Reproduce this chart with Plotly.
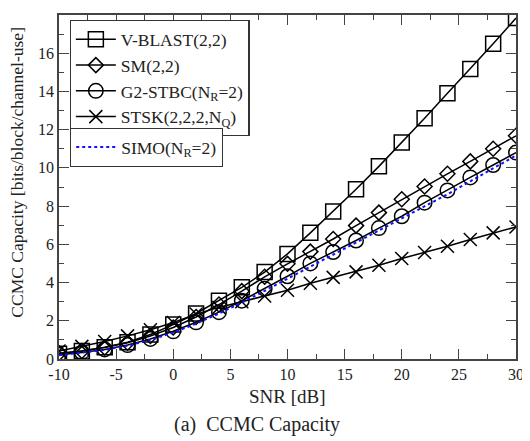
import plotly.graph_objects as go

snr = [-10, -8, -6, -4, -2, 0, 2, 4, 6, 8, 10, 12, 14, 16, 18, 20, 22, 24, 26, 28, 30]
vblast = [0.28, 0.42, 0.62, 0.88, 1.28, 1.80, 2.38, 3.05, 3.75, 4.55, 5.50, 6.60, 7.72, 8.88, 10.08, 11.33, 12.60, 13.90, 15.18, 16.50, 17.84]
sm = [0.30, 0.42, 0.60, 0.85, 1.20, 1.65, 2.20, 2.85, 3.55, 4.30, 4.98, 5.62, 6.28, 6.98, 7.66, 8.36, 9.03, 9.69, 10.34, 11.00, 11.68]
g2stbc = [0.22, 0.34, 0.50, 0.73, 1.05, 1.45, 1.92, 2.45, 3.05, 3.68, 4.33, 5.00, 5.60, 6.20, 6.85, 7.47, 8.18, 8.82, 9.50, 10.15, 10.80]
stsk = [0.42, 0.66, 0.92, 1.21, 1.53, 1.91, 2.35, 2.70, 3.00, 3.30, 3.60, 3.96, 4.27, 4.56, 4.91, 5.26, 5.57, 5.90, 6.25, 6.60, 6.91]
simo = [0.20, 0.32, 0.48, 0.70, 1.00, 1.38, 1.85, 2.38, 2.95, 3.57, 4.20, 4.85, 5.47, 6.10, 6.72, 7.35, 7.98, 8.62, 9.30, 9.98, 10.65]

x_tickvals = [-10, -5, 0, 5, 10, 15, 20, 25, 30]
x_ticktext = ["-10", "-5", "0", "5", "10", "15", "20", "25", "30"]
y_tickvals = [0, 2, 4, 6, 8, 10, 12, 14, 16, 18]

names = ["V-BLAST(2,2)", "SM(2,2)", "G2-STBC(N<sub>R</sub>=2)", "STSK(2,2,2,N<sub>Q</sub>)"]
simo_name = "SIMO(N<sub>R</sub>=2)"

FONT = "Liberation Serif"
TXT = "#222222"
AX = "#444444"

fig = go.Figure()
series = [(vblast, "square-open", 15), (sm, "diamond-open", 11.5),
          (g2stbc, "circle-open", 14.5), (stsk, "x-thin-open", 13)]
for (vals, sym, sz), nm in zip(series, names):
    fig.add_trace(go.Scatter(
        x=snr, y=vals, name=nm, mode="lines+markers",
        line=dict(color="black", width=1.5),
        marker=dict(symbol=sym, size=sz, color="black", line=dict(color="black", width=1.5)),
        legend="legend"))
fig.add_trace(go.Scatter(
    x=snr, y=simo, name=simo_name, mode="lines",
    line=dict(color="#1010ff", width=2, dash="dot"),
    legend="legend2"))

axis_common = dict(
    showline=True, linecolor=AX, linewidth=1.5, mirror="ticks",
    ticks="inside", ticklen=10, tickwidth=1.2, tickcolor=AX,
    showgrid=False, zeroline=False,
    tickfont=dict(family=FONT, size=16, color=TXT),
)

fig.update_xaxes(range=[-10, 30], tickvals=x_tickvals, ticktext=x_ticktext,
                 minor=dict(ticks="inside", ticklen=5, dtick=2.5, tick0=0, tickcolor=AX, tickwidth=1.2),
                 **axis_common)
fig.update_yaxes(range=[0, 18], tickvals=y_tickvals,
                 minor=dict(ticks="inside", ticklen=5, dtick=1, tick0=0, tickcolor=AX, tickwidth=1.2),
                 **axis_common)

legend_common = dict(
    bgcolor="white", bordercolor="#333333", borderwidth=1.2,
    font=dict(family=FONT, size=17.5, color=TXT),
    xanchor="left", yanchor="top", itemwidth=40,
    tracegroupgap=0, entrywidthmode="pixels",
)
fig.update_layout(
    width=522, height=433,
    margin=dict(l=50.5, r=7.5, t=5.7, b=81.7),
    plot_bgcolor="white", paper_bgcolor="white",
    showlegend=True,
    legend=dict(x=0.0233, y=0.9846, entrywidth=150, **legend_common),
    legend2=dict(x=0.0241, y=0.672, entrywidth=120, **legend_common),
    annotations=[
        dict(text="SNR [dB]", xref="paper", yref="paper", x=0.499, y=-0.108,
             xanchor="center", yanchor="middle", showarrow=False,
             font=dict(family=FONT, size=19, color=TXT)),
        dict(text="(a)  CCMC Capacity", xref="paper", yref="paper", x=0.434, y=-0.190,
             xanchor="center", yanchor="middle", showarrow=False,
             font=dict(family=FONT, size=20, color=TXT)),
        dict(text="CCMC Capacity [bits/block/channel-use]", xref="paper", yref="paper",
             x=-0.0938, y=0.542, textangle=-90, xanchor="center", yanchor="middle",
             showarrow=False, font=dict(family=FONT, size=17.5, color=TXT)),
    ],
)

fig.write_html("out.html")
